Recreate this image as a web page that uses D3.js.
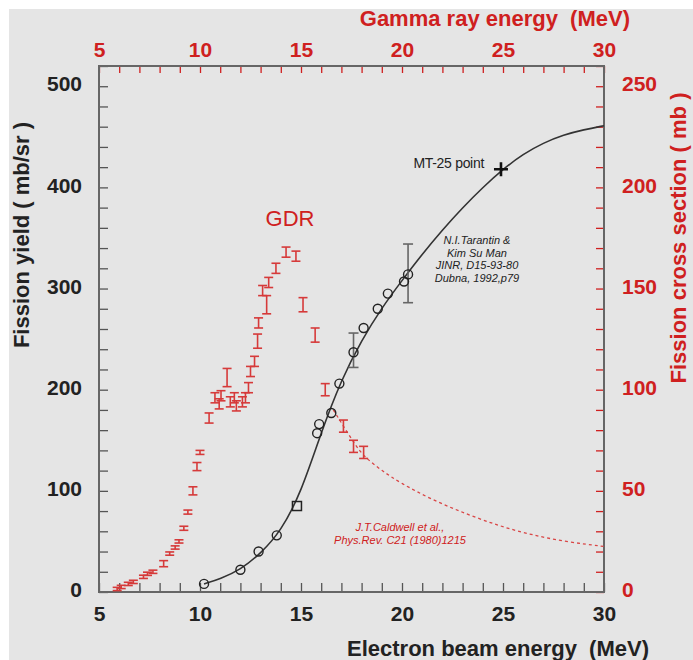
<!DOCTYPE html>
<html>
<head>
<meta charset="utf-8">
<script src="https://cdn.jsdelivr.net/npm/d3@7"></script>
<style>
  html, body { margin: 0; padding: 0; background: #ffffff; }
  svg { display: block; font-family: "Liberation Sans", Arial, sans-serif; }
</style>
</head>
<body>
<svg id="chart" width="693" height="660"></svg>
<script>
// Electron-beam fission yield (left axis, mb/sr) — circles, N.I.Tarantin & Kim Su Man
const yieldEnergy = [10.2, 12.0, 12.9, 13.8, 15.8, 15.9, 16.5, 16.9, 17.6, 18.1, 18.8, 19.3, 20.1, 20.3];
const yieldValue  = [8, 22, 40, 56, 157, 166, 177, 206, 237, 261, 280, 295, 307, 314];

// Square marker point
const squareEnergy = [14.8];
const squareValue  = [85];

// Yield points carrying error bars: energy, low, high
const yieldErrEnergy = [17.6, 20.3];
const yieldErrLow    = [222, 286];
const yieldErrHigh   = [256, 344];

// MT-25 point
const mtEnergy = [24.9];
const mtValue  = [418];

// Smooth fitted yield curve
const curveEnergy = [10.2, 11, 12, 13, 14, 15, 16, 17, 18, 19, 20, 21, 22, 23, 24, 25, 26, 27, 28, 29, 30];
const curveValue  = [8, 13, 22, 38, 60, 98, 158, 210, 249, 281, 308, 334, 358, 380, 400, 418, 433, 444, 452, 457, 461];

// Photofission cross section (right axis, mb) vs gamma energy — J.T.Caldwell et al.
const gdrEnergy = [5.9, 6.1, 6.45, 6.7, 7.2, 7.4, 7.67, 8.2, 8.5, 8.77, 8.96, 9.2, 9.4, 9.65, 9.85, 10.0,
                   10.45, 10.74, 10.95, 11.04, 11.34, 11.5, 11.7, 11.8, 12.1, 12.25, 12.4, 12.5, 12.7, 12.85,
                   12.9, 13.1, 13.3, 13.4, 13.76, 14.26, 14.75, 15.1, 15.7, 16.2, 17.1, 17.6, 18.1];
const gdrValue  = [1.5, 2.5, 4, 5, 7.5, 9, 10, 14, 19, 22, 25, 31.5, 39.5, 50, 62, 69,
                   86, 96, 93, 97, 106, 94, 96, 92, 94, 96, 101, 109, 114, 124,
                   133, 149, 142, 153, 160, 168, 166, 142, 127, 100, 82, 72, 69];
const gdrError  = [0.8, 0.8, 0.8, 0.8, 0.8, 0.8, 0.8, 1.5, 0.8, 0.8, 0.8, 1, 1, 2, 2, 1,
                   2.5, 2.5, 2.5, 2.5, 4.5, 2.5, 2.5, 2.5, 2.5, 2.5, 2.5, 2.5, 2.5, 3.5,
                   2.5, 2.5, 4.5, 2.5, 2.5, 2.5, 2.5, 3.5, 3.5, 3, 3, 3, 3];

// Dashed extrapolation of the cross section
const tailEnergy = [16.6, 17.1, 17.6, 18.1, 19.0, 19.9, 21.5, 23.2, 24.85, 26.5, 28.2, 30];
const tailValue  = [90, 82, 74, 67, 60, 54, 45.5, 38.5, 32.5, 28, 24.7, 22.5];

// Tick labels
const energyTicks = [5, 10, 15, 20, 25, 30];
const yieldTicks  = [0, 100, 200, 300, 400, 500];
const sigmaTicks  = [0, 50, 100, 150, 200, 250];

const RED = "#cf2020";
const BLACK = "#222222";

const svg = d3.select("#chart");

// panel background
svg.append("rect").attr("x", 9).attr("y", 9).attr("width", 684).attr("height", 651).attr("fill", "#e5e5e5");

const L = 99, R = 604, T = 66, B = 592;
const x  = d3.scaleLinear().domain([5, 30]).range([L, R]);
const yL = d3.scaleLinear().domain([0, 520]).range([B, T]);
const yR = d3.scaleLinear().domain([0, 260]).range([B, T]);

// ---- minor tick marks (inward) ----
function styleTicks(g, color) {
  g.select(".domain").remove();
  g.selectAll("line").attr("stroke", color).attr("stroke-width", 1.3);
  g.selectAll("text").remove();
}
svg.append("g").attr("transform", `translate(${L},0)`)
  .call(d3.axisLeft(yL).tickValues(d3.range(0, 521, 20)).tickSizeInner(-9).tickSizeOuter(0))
  .call(g => styleTicks(g, "#555"));
svg.append("g").attr("transform", `translate(0,${B})`)
  .call(d3.axisBottom(x).tickValues(d3.range(5, 30.01, 1)).tickSizeInner(-9).tickSizeOuter(0))
  .call(g => styleTicks(g, "#555"));
svg.append("g").attr("transform", `translate(0,${T})`)
  .call(d3.axisTop(x).tickValues(d3.range(5, 30.01, 1)).tickSizeInner(-7).tickSizeOuter(0))
  .call(g => styleTicks(g, RED));
svg.append("g").attr("transform", `translate(${R},0)`)
  .call(d3.axisRight(yR).tickValues(d3.range(0, 260.01, 10)).tickSizeInner(-8).tickSizeOuter(0))
  .call(g => styleTicks(g, RED));

// ---- tick labels ----
function styleLabels(g, color) {
  g.select(".domain").remove();
  g.selectAll("line").remove();
  g.selectAll("text").attr("fill", color).attr("font-size", 21).attr("font-weight", "bold")
    .attr("font-family", "'Liberation Sans', Arial, sans-serif");
}
svg.append("g").attr("transform", `translate(${L},0)`)
  .call(d3.axisLeft(yL).tickValues(yieldTicks).tickFormat(d3.format("d")).tickSize(0).tickPadding(17))
  .call(g => styleLabels(g, BLACK))
  .selectAll("text").attr("dy", "0.22em");
svg.append("g").attr("transform", `translate(0,${B})`)
  .call(d3.axisBottom(x).tickValues(energyTicks).tickFormat(d3.format("d")).tickSize(0).tickPadding(14))
  .call(g => styleLabels(g, BLACK));
svg.append("g").attr("transform", `translate(0,${T})`)
  .call(d3.axisTop(x).tickValues(energyTicks).tickFormat(d3.format("d")).tickSize(0).tickPadding(9))
  .call(g => styleLabels(g, RED));
svg.append("g").attr("transform", `translate(${R},0)`)
  .call(d3.axisRight(yR).tickValues(sigmaTicks).tickFormat(d3.format("d")).tickSize(0).tickPadding(18))
  .call(g => styleLabels(g, RED))
  .selectAll("text").attr("dy", "0.22em");

// frame
svg.append("rect").attr("x", L).attr("y", T).attr("width", R - L).attr("height", B - T)
  .attr("fill", "none").attr("stroke", "#666").attr("stroke-width", 2);

// ---- axis titles ----
svg.append("text").attr("x", 630).attr("y", 26).attr("text-anchor", "end").attr("fill", RED)
  .attr("font-size", 22).attr("font-weight", "bold").attr("xml:space", "preserve")
  .text("Gamma ray energy  (MeV)");
svg.append("text").attr("x", 649).attr("y", 656).attr("text-anchor", "end").attr("fill", BLACK)
  .attr("font-size", 22).attr("font-weight", "bold").attr("xml:space", "preserve")
  .text("Electron beam energy  (MeV)");
svg.append("text").attr("transform", "translate(29,235) rotate(-90)").attr("text-anchor", "middle")
  .attr("fill", BLACK).attr("font-size", 22).attr("font-weight", "bold")
  .text("Fission yield ( mb/sr )");
svg.append("text").attr("transform", "translate(686,238) rotate(-90)").attr("text-anchor", "middle")
  .attr("fill", RED).attr("font-size", 22).attr("font-weight", "bold")
  .text("Fission cross section ( mb )");

// ---- red cross-section data ----
const tail = tailEnergy.map((e, i) => [e, tailValue[i]]);
svg.append("path").datum(tail)
  .attr("d", d3.line().x(d => x(d[0])).y(d => yR(d[1])).curve(d3.curveBasis))
  .attr("fill", "none").attr("stroke", "#d94545").attr("stroke-width", 1.3).attr("stroke-dasharray", "3,3");

const gdr = gdrEnergy.map((e, i) => ({ e, v: gdrValue[i], err: gdrError[i] }));
const eb = svg.append("g").attr("stroke", "#d63a3a").attr("stroke-width", 1.6).attr("fill", "none");
gdr.forEach(d => {
  const xc = x(d.e), y0 = yR(d.v - d.err), y1 = yR(d.v + d.err);
  eb.append("line").attr("x1", xc).attr("x2", xc).attr("y1", y0).attr("y2", y1);
  eb.append("line").attr("x1", xc - 4.5).attr("x2", xc + 4.5).attr("y1", y0).attr("y2", y0);
  eb.append("line").attr("x1", xc - 4.5).attr("x2", xc + 4.5).attr("y1", y1).attr("y2", y1);
});

// ---- black yield data ----
const curve = curveEnergy.map((e, i) => [e, curveValue[i]]);
svg.append("path").datum(curve)
  .attr("d", d3.line().x(d => x(d[0])).y(d => yL(d[1])).curve(d3.curveBasis))
  .attr("fill", "none").attr("stroke", "#333").attr("stroke-width", 1.6);

const errG = svg.append("g").attr("stroke", "#666").attr("stroke-width", 1.6);
yieldErrEnergy.forEach((e, i) => {
  const xc = x(e), y0 = yL(yieldErrLow[i]), y1 = yL(yieldErrHigh[i]);
  errG.append("line").attr("x1", xc).attr("x2", xc).attr("y1", y0).attr("y2", y1);
  errG.append("line").attr("x1", xc - 5).attr("x2", xc + 5).attr("y1", y0).attr("y2", y0);
  errG.append("line").attr("x1", xc - 5).attr("x2", xc + 5).attr("y1", y1).attr("y2", y1);
});

svg.append("g").selectAll("circle").data(yieldEnergy.map((e, i) => [e, yieldValue[i]])).join("circle")
  .attr("cx", d => x(d[0])).attr("cy", d => yL(d[1])).attr("r", 4.5)
  .attr("fill", "none").attr("stroke", "#222").attr("stroke-width", 1.4);

svg.append("g").selectAll("rect").data(squareEnergy.map((e, i) => [e, squareValue[i]])).join("rect")
  .attr("x", d => x(d[0]) - 4.5).attr("y", d => yL(d[1]) - 4.5).attr("width", 9).attr("height", 9)
  .attr("fill", "none").attr("stroke", "#222").attr("stroke-width", 1.5);

mtEnergy.forEach((e, i) => {
  const xc = x(e), yc = yL(mtValue[i]);
  svg.append("path").attr("d", `M${xc - 7},${yc}H${xc + 7}M${xc},${yc - 7}V${yc + 7}`)
    .attr("stroke", "#111").attr("stroke-width", 2.6);
});

// ---- annotations ----
svg.append("text").attr("x", 290).attr("y", 226).attr("text-anchor", "middle").attr("fill", RED)
  .attr("font-size", 22).text("GDR");
svg.append("text").attr("x", 484).attr("y", 168).attr("text-anchor", "end").attr("fill", BLACK)
  .attr("font-size", 14).attr("letter-spacing", -0.3).text("MT-25 point");

const ref1 = ["N.I.Tarantin &", "Kim Su Man", "JINR, D15-93-80", "Dubna, 1992,p79"];
svg.append("g").selectAll("text").data(ref1).join("text")
  .attr("x", 477).attr("y", (d, i) => 244 + i * 12.7).attr("text-anchor", "middle")
  .attr("fill", BLACK).attr("font-size", 11).attr("font-style", "italic").text(d => d);

const ref2 = ["J.T.Caldwell et al.,", "Phys.Rev. C21 (1980)1215"];
svg.append("g").selectAll("text").data(ref2).join("text")
  .attr("x", 400).attr("y", (d, i) => 531 + i * 13).attr("text-anchor", "middle")
  .attr("fill", RED).attr("font-size", 11).attr("font-style", "italic").text(d => d);
</script>
</body>
</html>
